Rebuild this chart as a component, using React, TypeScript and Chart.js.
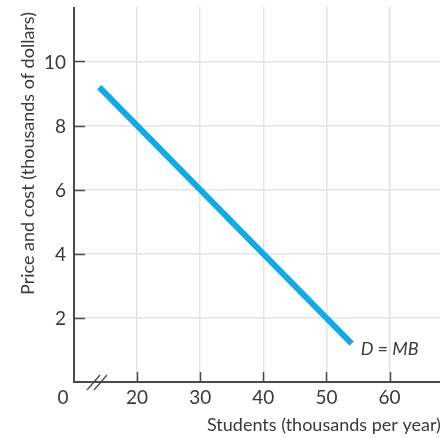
import React, { useEffect, useRef } from "react";
import { Chart, registerables } from "chart.js";

Chart.register(...registerables);

const students = [14, 54];
const price = [9.2, 1.2];
const xTicks = [20, 30, 40, 50, 60];
const yTicks = [2, 4, 6, 8, 10];
const xTitle = "Students (thousands per year)";
const yTitle = "Price and cost (thousands of dollars)";
const curveLabel = "D = MB";

const FONT = "Lato, 'Open Sans', sans-serif";
const AXIS = "#4a4a4a";
const TEXT = "#3a3a3a";
const GRID = "#e3e3e3";

const overlay = {
  id: "overlay",
  afterDraw(chart: any) {
    const { ctx, scales } = chart;
    const xs = scales.x;
    const ys = scales.y;
    const x0 = xs.left;
    const y0 = ys.bottom;
    ctx.save();
    // axes
    ctx.strokeStyle = AXIS;
    ctx.lineWidth = 2;
    ctx.beginPath();
    ctx.moveTo(x0, ys.top);
    ctx.lineTo(x0, y0);
    ctx.lineTo(xs.right, y0);
    ctx.stroke();
    // tick marks inside
    ctx.lineWidth = 1.5;
    ctx.beginPath();
    xTicks.forEach((v) => {
      const px = Math.round(xs.getPixelForValue(v)) + 0.5;
      ctx.moveTo(px, y0);
      ctx.lineTo(px, y0 - 10);
    });
    yTicks.forEach((v) => {
      const py = Math.round(ys.getPixelForValue(v)) + 0.5;
      ctx.moveTo(x0, py);
      ctx.lineTo(x0 + 11, py);
    });
    ctx.stroke();
    // break marks
    ctx.lineWidth = 1.3;
    ctx.beginPath();
    ctx.moveTo(87, y0 + 8);
    ctx.lineTo(100, y0 - 7);
    ctx.moveTo(94, y0 + 8);
    ctx.lineTo(107, y0 - 7);
    ctx.stroke();
    // tick labels
    ctx.fillStyle = TEXT;
    ctx.font = `19px ${FONT}`;
    ctx.textBaseline = "middle";
    ctx.textAlign = "center";
    xTicks.forEach((v) => {
      ctx.fillText(String(v), xs.getPixelForValue(v), y0 + 16);
    });
    ctx.fillText("0", x0 - 11, y0 + 16);
    ctx.textAlign = "right";
    yTicks.forEach((v) => {
      ctx.fillText(String(v), x0 - 8, ys.getPixelForValue(v) + 1);
    });
    // x title
    ctx.font = `18px ${FONT}`;
    ctx.textAlign = "left";
    ctx.fillText(xTitle, 207, 425);
    // y title
    ctx.save();
    ctx.translate(28, 295);
    ctx.rotate(-Math.PI / 2);
    ctx.textAlign = "left";
    ctx.fillText(yTitle, 0, 0);
    ctx.restore();
    // curve label
    ctx.font = `italic 18px ${FONT}`;
    ctx.textAlign = "left";
    const lx = xs.getPixelForValue(students[1]) + 9;
    const ly = ys.getPixelForValue(price[1]) + 6;
    ctx.fillText(curveLabel, lx, ly);
    ctx.restore();
  },
};

export default function App() {
  const ref = useRef<HTMLCanvasElement>(null);
  useEffect(() => {
    document.body.style.margin = "0";
    const chart = new Chart(ref.current!, {
      type: "scatter",
      data: {
        datasets: [
          {
            data: students.map((s, i) => ({ x: s, y: price[i] })),
            showLine: true,
            borderColor: "#10ABE6",
            borderWidth: 6,
            pointRadius: 0,
            borderCapStyle: "butt",
          },
        ],
      },
      options: {
        responsive: false,
        animation: false,
        layout: { padding: { top: 7, right: 0, left: 74, bottom: 56 } },
        plugins: { legend: { display: false }, tooltip: { enabled: false } },
        scales: {
          x: {
            type: "linear",
            min: 10,
            max: 68,
            border: { display: false },
            grid: {
              color: (c: any) => (c.tick && c.tick.value === 10 ? "rgba(0,0,0,0)" : GRID),
              lineWidth: 1.5,
              drawTicks: false,
            },
            ticks: { stepSize: 10, includeBounds: false, display: false },
          },
          y: {
            type: "linear",
            min: 0,
            max: 11.7,
            border: { display: false },
            grid: {
              color: (c: any) => (c.tick && c.tick.value === 0 ? "rgba(0,0,0,0)" : GRID),
              lineWidth: 1.5,
              drawTicks: false,
            },
            ticks: { stepSize: 2, includeBounds: false, display: false },
          },
        },
      },
      plugins: [overlay],
    });
    return () => chart.destroy();
  }, []);
  return <canvas ref={ref} width={440} height={438} style={{ display: "block" }} />;
}
